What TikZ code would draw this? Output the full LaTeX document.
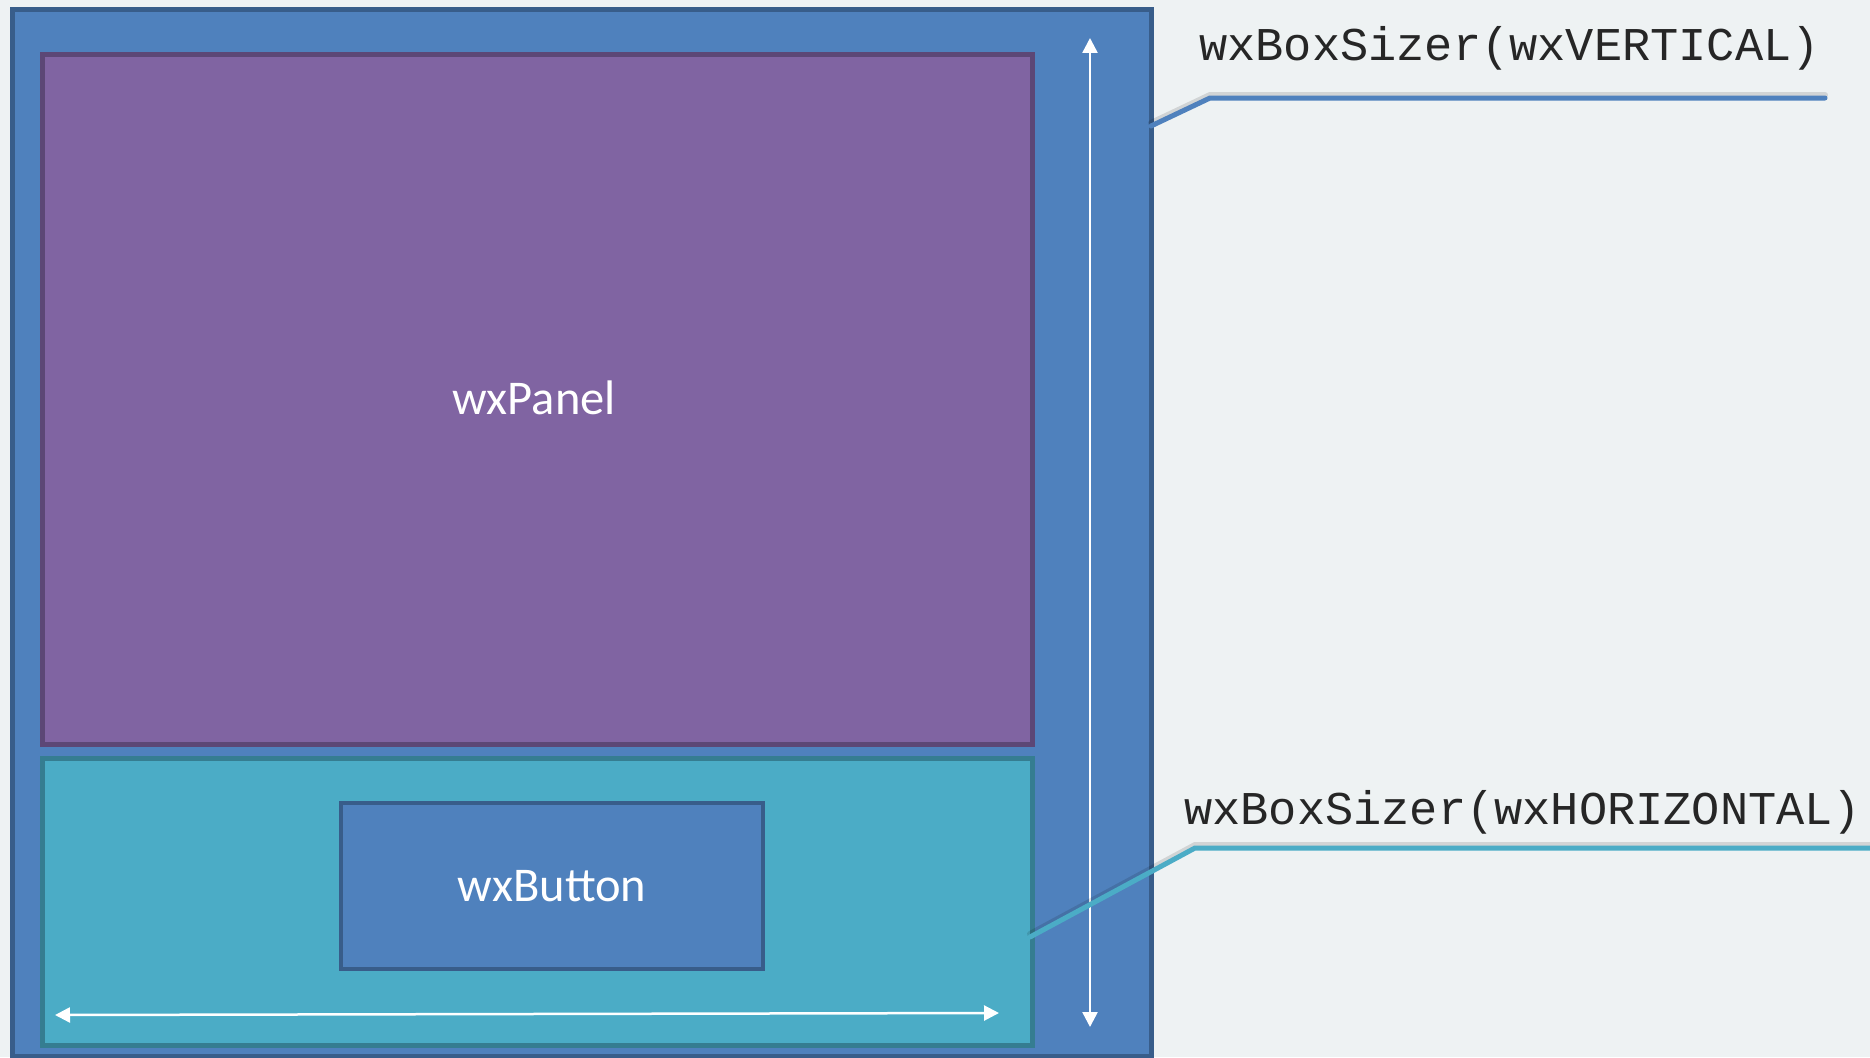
\documentclass[tikz,border=0pt]{standalone}
\usepackage{fontspec}
\setmainfont{Carlito}
\newfontfamily\monofnt{Liberation Mono}
\usetikzlibrary{arrows.meta}
\definecolor{bgc}{HTML}{EEF2F3}
\definecolor{blueF}{HTML}{4F81BD}
\definecolor{blueD}{HTML}{385D8A}
\definecolor{purF}{HTML}{8064A2}
\definecolor{purD}{HTML}{5C4776}
\definecolor{tealF}{HTML}{4BACC6}
\definecolor{tealD}{HTML}{357D91}
\tikzset{
  box/.style={rectangle, inner sep=0pt, anchor=north west, line width=5pt},
  lbl/.style={text=white, font=\fontsize{48.5}{56}\selectfont},
  code/.style={font=\monofnt\fontsize{47}{56}\selectfont, inner sep=0pt, anchor=west, text=black!85},
  span/.style={draw=white, line width=2.5pt, {Triangle[width=15pt,length=15pt]}-{Triangle[width=15pt,length=15pt]}},
  callout/.style={line width=5pt, line cap=round},
  shadowline/.style={line width=6pt, draw=black, opacity=0.12, line cap=round}
}
\begin{document}
\begin{tikzpicture}[x=1pt,y=-1pt]
\useasboundingbox[fill=bgc] (0,0) rectangle (1870,1057);
\begin{scope}
\clip (0,0) rectangle (1870,1057);
\node[box, draw=blueD, fill=blueF, minimum width=1139pt, minimum height=1047pt] (outer) at (10,7) {};
\end{scope}
\node[box, draw=purD, fill=purF, minimum width=990pt, minimum height=690pt] (panel) at (40,52) {};
\node[box, draw=tealD, fill=tealF, minimum width=990pt, minimum height=287pt] (hsizer) at (40,756) {};
\node[box, draw=blueD, fill=blueF, line width=4pt, minimum width=422pt, minimum height=166pt] (button) at (339,801) {};
\node[lbl] (paneltext) at (534,398) {wxPanel};
\node[lbl] (buttontext) at (button.center) {wxButton};
% arrows
\coordinate (vtop) at (1090,38);
\coordinate (vbot) at (1090,1027);
\draw[span] (vtop) -- (vbot);
\coordinate (hleft) at (55,1015);
\coordinate (hright) at (999,1013);
\draw[span] (hleft) -- (hright);
% callouts
\node[code] (vlabel) at (1199,48) {wxBoxSizer(wxVERTICAL)};
\node[code] (hlabel) at (1184,812) {wxBoxSizer(wxHORIZONTAL)};
\coordinate (c1a) at (1151,126);
\coordinate (c1b) at (1210,98);
\coordinate (c1c) at (1825,98);
\coordinate (c2a) at (1030,937);
\coordinate (c2b) at (1195,848);
\coordinate (c2c) at (1872,848);
\draw[shadowline] ([yshift=3pt]c1a) -- ([yshift=3pt]c1b) -- ([yshift=3pt]c1c);
\draw[shadowline] ([yshift=3pt]c2a) -- ([yshift=3pt]c2b) -- ([yshift=3pt]c2c);
\draw[callout, draw=blueF] (c1a) -- (c1b) -- (c1c);
\draw[callout, draw=tealF] (c2a) -- (c2b) -- (c2c);
\end{tikzpicture}
\end{document}
